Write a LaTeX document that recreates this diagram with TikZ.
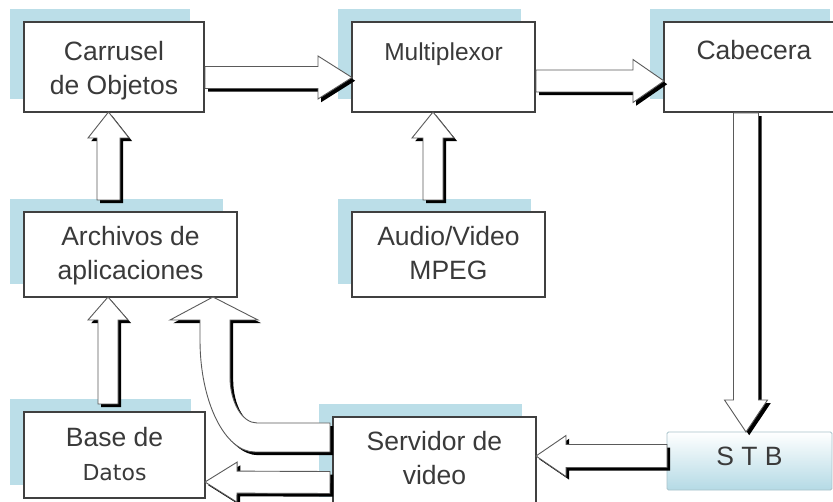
\documentclass[tikz,border=0pt]{standalone}
\usepackage{fontspec}
\setmainfont{Liberation Sans}
\newfontfamily\datosfont{DejaVu Sans}
\usetikzlibrary{calc,shadows}

\definecolor{shadowblue}{HTML}{BBDEE8}
\definecolor{boxline}{HTML}{404040}
\definecolor{txt}{HTML}{3A3A3A}
\definecolor{arrowline}{HTML}{5A5A5A}
\definecolor{stbblue}{HTML}{B4DAE5}
\definecolor{stbline}{HTML}{A9C3CB}

\tikzset{
  box/.style={draw=boxline, line width=1.3pt, fill=white, inner sep=0pt,
    outer sep=0pt, align=center, text=txt,
    font=\fontsize{26.5}{34}\selectfont,
    drop shadow={shadow xshift=-14pt, shadow yshift=13pt,
      fill=shadowblue, draw=none, opacity=1}},
  stbbox/.style={draw=stbline, line width=0.8pt, inner sep=0pt, outer sep=0pt,
    top color=white, bottom color=stbblue, rounded corners=1.5pt, text=txt,
    font=\fontsize{26.5}{34}\selectfont},
  arrowbody/.style={fill=white, draw=arrowline, line width=0.9pt, line join=miter},
  arrowshade/.style={fill=black},
  shadowshift/.style={transform canvas={shift={(3.2pt,-3.2pt)}}},
}

% straight block arrow: #1 tail, #2 tip, #3 half shaft, #4 half head, #5 head length
\newcommand\blockarrowpath[6]{%
  \path[#1] ($(#2)!#4!90:(#3)$) -- ($(hb)!#4!90:(#3)$) -- ($(hb)!#5!90:(#3)$)
    -- (#3) -- ($(hb)!#5!-90:(#3)$) -- ($(hb)!#4!-90:(#3)$)
    -- ($(#2)!#4!-90:(#3)$) -- cycle;}
\newcommand\blockarrow[5]{%
  \coordinate (hb) at ($(#2)!#5!(#1)$);
  \begin{scope}[shadowshift]\blockarrowpath{arrowshade}{#1}{#2}{#3}{#4}{#5}\end{scope}
  \blockarrowpath{arrowbody}{#1}{#2}{#3}{#4}{#5}}

% bent block arrow from the video server up to the application files
\newcommand\bentarrowpath[1]{%
  \path[#1] (cvtip) -- ($(cvtip)+(45,23)$) -- ($(cvtip)+(17,23)$) -- ($(cvtip)+(17,80)$)
    .. controls ($(cvtip)+(17,105)$) and ($(cvtip)+(29,126)$) .. ($(cvtip)+(44,126)$)
    -- ($(servidor.west)+(-3,-40.5)$) -- ($(servidor.west)+(-3,-11.5)$)
    -- ($(cvtip)+(42,155)$)
    .. controls ($(cvtip)+(12,155)$) and ($(cvtip)+(-13,105)$) .. ($(cvtip)+(-13,43)$)
    -- ($(cvtip)+(-13,23)$) -- ($(cvtip)+(-43,23)$) -- cycle;}

\begin{document}
\begin{tikzpicture}[x=1pt, y=-1pt]
\useasboundingbox (0,0) rectangle (833,502);
\clip (0,0) rectangle (833,502);
\fill[white] (0,0) rectangle (833,502);

% boxes (text height runs from the box top to the last baseline)
\node[box, minimum width=180pt, minimum height=90pt, text height=73pt, text depth=17pt]
  (carrusel) at (114,67) {Carrusel\\de Objetos};
\node[box, minimum width=183pt, minimum height=90pt, text height=39pt, text depth=51pt,
  font=\fontsize{24.5}{34}\selectfont]
  (multiplexor) at (443.5,67) {Multiplexor};
\node[box, minimum width=180pt, minimum height=90pt, text height=38pt, text depth=52pt]
  (cabecera) at (754,67) {Cabecera};
\node[box, minimum width=213pt, minimum height=85pt, text height=68pt, text depth=17pt]
  (archivos) at (130.5,254.5) {Archivos de\\aplicaciones};
\node[box, minimum width=193pt, minimum height=85pt, text height=68pt, text depth=17pt]
  (audio) at (448.5,254.5) {Audio/Video\\MPEG};
\node[box, minimum width=181pt, minimum height=86pt, text height=68pt, text depth=18pt]
  (base) at (114.5,455) {Base de\\{\datosfont\fontsize{22}{35}\selectfont Datos}};
\node[box, minimum width=203pt, minimum height=93pt, text height=68pt, text depth=25pt]
  (servidor) at (434.5,463.5) {Servidor de\\video};
\node[stbbox, minimum width=165pt, minimum height=58pt, text height=34pt, text depth=24pt]
  (stb) at (749.5,461) {S T B};

% arrow end points
\coordinate (a1s) at ($(carrusel.east)+(1,10.5)$);
\coordinate (a1e) at ($(multiplexor.west)+(0,10.5)$);
\coordinate (a2s) at ($(multiplexor.east)+(1,14)$);
\coordinate (a2e) at ($(cabecera.west)+(0,14)$);
\coordinate (a3s) at ($(cabecera.south)+(-8,1)$);
\coordinate (a3e) at ($(stb.north)+(-3.5,0)$);
\coordinate (a4s) at ($(stb.west)+(0,-5)$);
\coordinate (a4e) at ($(servidor.east)+(0,-7.5)$);
\coordinate (a5s) at ($(servidor.west)+(-3,19)$);
\coordinate (a5e) at ($(base.east)+(0,27)$);
\coordinate (a6s) at ($(audio.north)+(-15.5,-12)$);
\coordinate (a6e) at ($(multiplexor.south)+(-10.5,0)$);
\coordinate (a7s) at ($(archivos.north)+(-22,-12)$);
\coordinate (a7e) at ($(carrusel.south)+(-5.5,0)$);
\coordinate (a8s) at ($(base.north)+(-6.5,-8)$);
\coordinate (a8e) at ($(archivos.south)+(-22.5,0)$);
\coordinate (cvtip) at ($(archivos.south)+(82.5,0)$);

% block arrows
\blockarrow{a1s}{a1e}{11pt}{21.5pt}{34pt}
\blockarrow{a2s}{a2e}{11pt}{21.5pt}{31pt}
\blockarrow{a3s}{a3e}{12.5pt}{21.5pt}{32pt}
\blockarrow{a4s}{a4e}{11.5pt}{20.5pt}{30pt}
\blockarrow{a5s}{a5e}{11pt}{20pt}{32pt}
\blockarrow{a6s}{a6e}{10pt}{21pt}{26pt}
\blockarrow{a7s}{a7e}{11.5pt}{20.5pt}{26pt}
\blockarrow{a8s}{a8e}{10pt}{20pt}{23pt}

\begin{scope}[shadowshift]\bentarrowpath{arrowshade}\end{scope}
\bentarrowpath{arrowbody}
\end{tikzpicture}
\end{document}
